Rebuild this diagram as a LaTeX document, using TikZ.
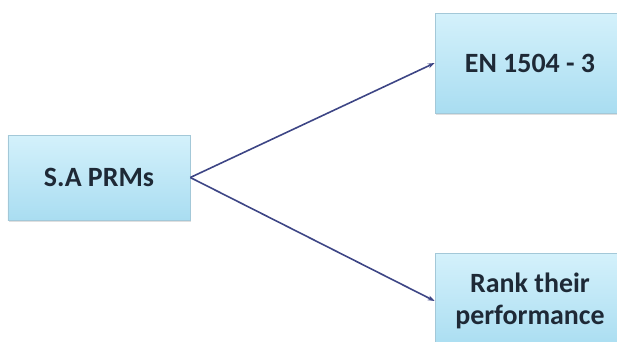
\documentclass[tikz,border=0pt]{standalone}
\usepackage{fontspec}
\setmainfont{Carlito}
\usetikzlibrary{arrows.meta,shadows}
\definecolor{boxtop}{HTML}{D4F1FB}
\definecolor{boxbot}{HTML}{A9DDF1}
\definecolor{boxline}{HTML}{A3C8D8}
\definecolor{linkcol}{HTML}{3D4585}
\definecolor{textcol}{HTML}{1E2936}
\begin{document}
\begin{tikzpicture}[x=1bp, y=-1bp,
    prmbox/.style={draw=boxline, line width=0.6pt, top color=boxtop, bottom color=boxbot,
      drop shadow={opacity=0.25, shadow xshift=0.8pt, shadow yshift=-1.5pt},
      font=\fontsize{28}{32}\selectfont\bfseries, text=textcol, align=center, inner sep=0pt},
    link/.style={draw=linkcol, line width=1.6pt, -{Stealth[length=7pt, width=5pt]}}]
    \useasboundingbox (0,0) rectangle (617,341);
    \clip (0,0) rectangle (617,341);

    % source box on the left
    \node[prmbox, minimum width=182bp, minimum height=85bp] (prm) at (99,177.5) {S.A PRMs};

    % the two targets, cut off by the right and bottom edges
    \node[prmbox, minimum width=190bp, minimum height=100bp] (en) at (530,63) {EN 1504 - 3};
    \node[prmbox, minimum width=190bp, minimum height=96bp] (rank) at (530,301) {Rank their\\performance};

    \draw[link] (prm.east) -- (en.west);
    \draw[link] (prm.east) -- (rank.west);
\end{tikzpicture}
\end{document}
